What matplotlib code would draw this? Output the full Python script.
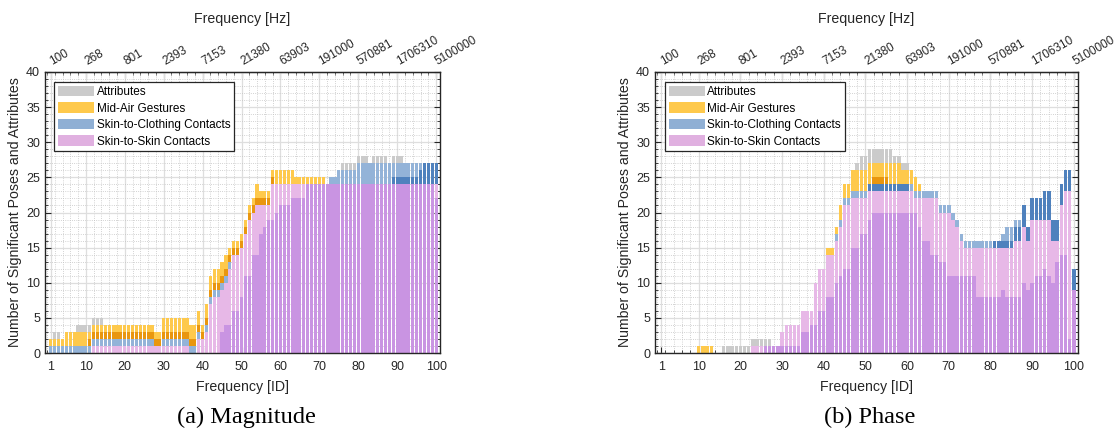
import numpy as np
import matplotlib.pyplot as plt
from matplotlib.ticker import MultipleLocator
from matplotlib.patches import Patch

plt.rcParams['font.family'] = ['Liberation Sans', 'DejaVu Sans']

freq_id = np.arange(1, 101)
id_ticks = [1, 10, 20, 30, 40, 50, 60, 70, 80, 90, 100]
hz_labels = ['100', '268', '801', '2393', '7153', '21380', '63903',
             '191000', '570881', '1706310', '5100000']
legend_labels = ['Attributes', 'Mid-Air Gestures', 'Skin-to-Clothing Contacts', 'Skin-to-Skin Contacts']

# ---- (a) magnitude: height of each stacked segment per frequency ID
mag_skin_dark = [0, 0, 0, 0, 0, 0, 0, 0, 0, 0,
                 0, 0, 0, 0, 0, 0, 0, 0, 0, 0,
                 0, 0, 0, 0, 0, 0, 0, 0, 0, 0,
                 0, 0, 0, 0, 0, 0, 0, 0, 0, 0,
                 0, 0, 0, 0, 3, 4, 4, 6, 6, 8,
                 11, 11, 14, 14, 17, 18, 19, 19, 20, 21,
                 21, 21, 22, 22, 22, 22, 24, 24, 24, 24,
                 24, 24, 24, 24, 24, 24, 24, 24, 24, 24,
                 24, 24, 24, 24, 24, 24, 24, 24, 24, 24,
                 24, 24, 24, 24, 24, 24, 24, 24, 24, 22]
mag_skin_light = [0, 0, 0, 0, 0, 0, 0, 0, 0, 0,
                  0, 1, 1, 1, 1, 1, 1, 1, 1, 1,
                  1, 1, 1, 1, 1, 1, 1, 1, 1, 1,
                  1, 1, 1, 1, 1, 1, 0, 0, 2, 2,
                  3, 7, 8, 8, 6, 6, 8, 8, 8, 7,
                  6, 8, 6, 7, 4, 3, 2, 5, 4, 3,
                  3, 3, 2, 2, 2, 2, 0, 0, 0, 0,
                  0, 0, 0, 0, 0, 0, 0, 0, 0, 0,
                  0, 0, 0, 0, 0, 0, 0, 0, 0, 0,
                  0, 0, 0, 0, 0, 0, 0, 0, 0, 2]
mag_cloth_dark = [0] * 88 + [1, 1, 1, 1, 1, 1, 1, 2, 3, 3, 3, 3]
mag_cloth_light = [1, 1, 1, 1, 1, 1, 1, 1, 1, 1,
                   1, 1, 1, 1, 1, 1, 1, 1, 1, 1,
                   1, 1, 1, 1, 1, 1, 1, 0, 0, 1,
                   1, 1, 1, 1, 1, 1, 1, 1, 1, 0,
                   1, 1, 1, 1, 1, 1, 1, 0, 0, 0,
                   0, 0, 0, 0, 0, 0, 0, 0, 0, 0,
                   0, 0, 0, 0, 0, 0, 0, 0, 0, 0,
                   0, 0, 1, 1, 2, 2, 2, 2, 2, 3,
                   3, 3, 3, 3, 3, 3, 3, 3, 2, 2,
                   2, 2, 2, 2, 2, 1, 0, 0, 0, 0]
mag_air_dark = [0, 0, 0, 0, 0, 0, 0, 0, 0, 0,
                1, 1, 1, 1, 1, 1, 1, 1, 1, 1,
                1, 1, 1, 1, 1, 1, 1, 1, 1, 1,
                1, 1, 1, 1, 1, 1, 1, 1, 1, 1,
                1, 1, 1, 1, 1, 1, 1, 1, 1, 1,
                1, 1, 1, 1, 1, 1, 1, 1, 0, 0,
                0, 0, 0, 0, 0, 0, 0, 0, 0, 0,
                0, 0, 0, 0, 0, 0, 0, 0, 0, 0,
                0, 0, 0, 0, 0, 0, 0, 0, 0, 0,
                0, 0, 0, 0, 0, 0, 0, 0, 0, 0]
mag_air_light = [1, 1, 1, 1, 2, 2, 2, 2, 2, 2,
                 1, 1, 1, 1, 1, 1, 1, 1, 1, 1,
                 1, 1, 1, 1, 1, 1, 1, 1, 1, 2,
                 2, 2, 2, 2, 2, 2, 2, 2, 2, 1,
                 2, 2, 2, 2, 2, 2, 1, 1, 1, 1,
                 1, 1, 1, 2, 1, 1, 1, 1, 2, 2,
                 2, 2, 2, 1, 1, 1, 1, 1, 1, 1,
                 1, 0, 0, 0, 0, 0, 0, 0, 0, 0,
                 0, 0, 0, 0, 0, 0, 0, 0, 0, 0,
                 0, 0, 0, 0, 0, 0, 0, 0, 0, 0]
mag_attr = [0, 1, 1, 0, 0, 0, 0, 1, 1, 1,
            1, 1, 1, 1, 0, 0, 0, 0, 0, 0,
            0, 0, 0, 0, 0, 0, 0, 0, 0, 0,
            0, 0, 0, 0, 0, 0, 0, 0, 0, 0,
            0, 0, 0, 0, 0, 0, 0, 0, 0, 0,
            0, 0, 0, 0, 0, 0, 0, 0, 0, 0,
            0, 0, 0, 0, 0, 0, 0, 0, 0, 0,
            0, 0, 0, 0, 0, 1, 1, 1, 1, 1,
            1, 1, 0, 1, 1, 1, 1, 0, 1, 1,
            1, 0, 0, 0, 0, 0, 0, 0, 0, 0]

# ---- (b) phase
ph_skin_dark = [0, 0, 0, 0, 0, 0, 0, 0, 0, 0,
                0, 0, 0, 0, 0, 0, 0, 0, 0, 0,
                0, 0, 0, 0, 0, 1, 1, 1, 1, 1,
                1, 1, 1, 1, 3, 3, 4, 4, 6, 6,
                8, 8, 10, 11, 12, 12, 15, 15, 17, 17,
                19, 20, 20, 20, 20, 20, 20, 20, 20, 20,
                20, 20, 18, 16, 16, 14, 14, 13, 13, 11,
                11, 11, 11, 11, 11, 11, 8, 8, 8, 8,
                8, 8, 9, 8, 8, 8, 8, 10, 9, 10,
                11, 11, 12, 11, 10, 13, 14, 14, 2, 9]
ph_skin_light = [0, 0, 0, 0, 0, 0, 0, 0, 0, 0,
                 0, 0, 0, 0, 0, 0, 0, 0, 0, 0,
                 0, 0, 1, 1, 1, 0, 0, 0, 0, 2,
                 3, 3, 3, 3, 3, 3, 2, 6, 6, 6,
                 6, 6, 6, 7, 9, 9, 7, 7, 5, 5,
                 4, 3, 3, 3, 3, 3, 3, 3, 3, 3,
                 3, 2, 4, 6, 6, 8, 8, 7, 7, 9,
                 8, 7, 5, 4, 4, 4, 7, 7, 7, 7,
                 7, 7, 6, 7, 7, 8, 8, 8, 7, 9,
                 8, 8, 7, 8, 6, 3, 7, 9, 21, 0]
ph_cloth_dark = [0] * 50 + [1] * 10 + [0] * 20 + \
                [1, 1, 1, 1, 1, 2, 2, 3, 2, 3,
                 3, 3, 4, 4, 3, 3, 3, 3, 3, 3]
ph_cloth_light = [0, 0, 0, 0, 0, 0, 0, 0, 0, 0,
                  0, 0, 0, 0, 0, 0, 0, 0, 0, 0,
                  0, 0, 0, 0, 0, 0, 0, 0, 0, 0,
                  0, 0, 0, 0, 0, 0, 0, 0, 0, 0,
                  0, 0, 1, 1, 1, 1, 1, 1, 1, 1,
                  0, 0, 0, 0, 0, 0, 0, 0, 0, 0,
                  1, 1, 1, 1, 1, 1, 1, 1, 1, 1,
                  1, 1, 1, 1, 1, 1, 1, 1, 1, 1,
                  0, 0, 1, 2, 2, 1, 1, 0, 0, 0,
                  0, 0, 0, 0, 0, 0, 0, 0, 0, 0]
ph_air_dark = [0] * 51 + [1, 1, 1, 1] + [0] * 45
ph_air_light = [0, 0, 0, 0, 0, 0, 0, 0, 0, 1,
                1, 1, 1, 0, 0, 0, 0, 0, 0, 0,
                0, 0, 0, 0, 0, 0, 0, 0, 0, 0,
                0, 0, 0, 0, 0, 0, 0, 0, 0, 0,
                1, 1, 1, 2, 2, 2, 3, 3, 3, 3,
                3, 2, 2, 2, 2, 3, 3, 3, 2, 2,
                2, 2, 1, 0, 0, 0, 0, 0, 0, 0,
                0, 0, 0, 0, 0, 0, 0, 0, 0, 0,
                0, 0, 0, 0, 0, 0, 0, 0, 0, 0,
                0, 0, 0, 0, 0, 0, 0, 0, 0, 0]
ph_attr = [0, 0, 0, 0, 0, 0, 0, 0, 0, 0,
           0, 0, 0, 0, 0, 1, 1, 1, 1, 1,
           1, 1, 1, 1, 1, 1, 1, 0, 0, 0,
           0, 0, 0, 0, 0, 0, 0, 0, 0, 0,
           0, 0, 0, 0, 0, 0, 0, 1, 2, 2,
           2, 2, 2, 2, 2, 2, 1, 1, 1, 1,
           0, 0, 0, 0, 0, 0, 0, 0, 0, 0,
           0, 0, 0, 0, 0, 0, 0, 0, 0, 0,
           0, 0, 0, 0, 0, 0, 0, 0, 0, 0,
           0, 0, 0, 0, 0, 0, 0, 0, 0, 0]

# colours, bottom to top of each stack
seg_colors = ['#c994e2', '#e7b8e7', '#4f81bd', '#93b3d8', '#e9960f', '#fec94c', '#cbcbcb']
legend_colors = ['#cbcbcb', '#fec94c', '#8fafd4', '#e0b0e0']
ink = '#262626'


def draw_panel(ax, segments):
    bottom = np.zeros(len(freq_id))
    for seg, col in zip(segments, seg_colors):
        seg = np.array(seg, dtype=float)
        ax.bar(freq_id, seg, bottom=bottom, width=0.82, color=col, linewidth=0, zorder=2)
        bottom += seg

    ax.set_xlim(-0.5, 101)
    ax.set_ylim(0, 40)
    ax.set_xticks(id_ticks)
    ax.set_yticks(range(0, 41, 5))
    ax.xaxis.set_minor_locator(MultipleLocator(2))
    ax.yaxis.set_minor_locator(MultipleLocator(1))
    ax.grid(which='major', color='#dedede', linewidth=0.9, zorder=0)
    ax.grid(which='minor', color='#c4c4c4', linestyle=':', linewidth=0.6, zorder=0)
    ax.set_axisbelow(True)
    ax.tick_params(which='both', direction='in', top=False, right=True, labelsize=9, colors=ink)
    ax.tick_params(axis='x', pad=6)
    ax.tick_params(which='major', length=4)
    ax.tick_params(which='minor', length=2)
    for sp in ax.spines.values():
        sp.set_color(ink)
        sp.set_linewidth(1.0)
    ax.set_xlabel('Frequency [ID]', fontsize=10.2, color=ink, labelpad=5)
    ax.set_ylabel('Number of Significant Poses and Attributes', fontsize=10.2, color=ink, labelpad=3)

    top = ax.secondary_xaxis('top')
    top.set_xticks(id_ticks)
    top.set_xticklabels(hz_labels)
    plt.setp(top.get_xticklabels(), rotation=30, ha='left', va='center', rotation_mode='anchor')
    top.xaxis.set_minor_locator(MultipleLocator(2))
    top.tick_params(which='both', direction='in', labelsize=8.5, colors=ink, pad=7)
    top.tick_params(which='major', length=4)
    top.tick_params(which='minor', length=2)
    top.set_xlabel('Frequency [Hz]', fontsize=10.2, color=ink, labelpad=8)

    handles = [Patch(facecolor=c, edgecolor='none') for c in legend_colors]
    leg = ax.legend(handles, legend_labels, loc='upper left', bbox_to_anchor=(0.023, 0.964),
                    fontsize=8.5, frameon=True, fancybox=False, handlelength=3.1, handleheight=1.0,
                    handletextpad=0.2, labelspacing=0.35, borderpad=0.32, borderaxespad=0)
    leg.get_frame().set_edgecolor(ink)
    leg.get_frame().set_linewidth(0.9)
    leg.get_frame().set_alpha(1)


fig = plt.figure(figsize=(11.19, 4.34), dpi=100)
ax_mag = fig.add_axes([45 / 1119, 81 / 434, 395 / 1119, 281 / 434])
ax_ph = fig.add_axes([655 / 1119, 81 / 434, 423 / 1119, 281 / 434])

draw_panel(ax_mag, [mag_skin_dark, mag_skin_light, mag_cloth_dark, mag_cloth_light,
                    mag_air_dark, mag_air_light, mag_attr])
draw_panel(ax_ph, [ph_skin_dark, ph_skin_light, ph_cloth_dark, ph_cloth_light,
                   ph_air_dark, ph_air_light, ph_attr])

fig.text(246 / 1119, 1 - 417 / 434, '(a) Magnitude', ha='center', va='center',
         fontsize=17.5, family='Liberation Serif')
fig.text(870 / 1119, 1 - 417 / 434, '(b) Phase', ha='center', va='center',
         fontsize=17.5, family='Liberation Serif')

fig.savefig('out.png', dpi=100)
